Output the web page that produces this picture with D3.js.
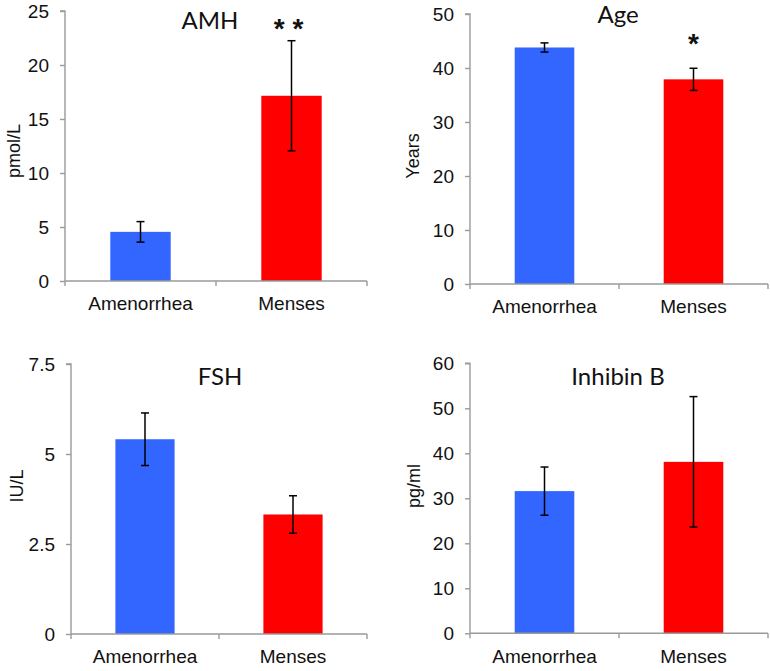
<!DOCTYPE html>
<html>
<head>
<meta charset="utf-8">
<script src="https://cdn.jsdelivr.net/npm/d3@7"></script>
<style>
  html, body { margin: 0; padding: 0; background: #fff; }
  svg { display: block; }
  .ax text { font-family: "Liberation Sans", Arial, Helvetica, sans-serif; }
</style>
</head>
<body>
<svg id="chart" width="770" height="671"></svg>
<script>
// ---- Data ----
const categories = ["Amenorrhea", "Menses"];
const barColors = ["#3366FF", "#FF0000"];

const amhMeans = [4.55, 17.15];
const amhErr = [0.95, 5.1];
const amhTicks = [0, 5, 10, 15, 20, 25];

const ageMeans = [43.8, 37.9];
const ageErr = [0.85, 2.05];
const ageTicks = [0, 10, 20, 30, 40, 50];

const fshMeans = [5.41, 3.32];
const fshErr = [0.73, 0.52];
const fshTicks = [0, 2.5, 5, 7.5];

const inhMeans = [31.6, 38.1];
const inhErr = [5.35, 14.5];
const inhTicks = [0, 10, 20, 30, 40, 50, 60];

const titles = ["AMH", "Age", "FSH", "Inhibin B"];
const yLabels = ["pmol/L", "Years", "IU/L", "pg/ml"];
const significance = ["* *", "*", "", ""];

// ---- Layout (pixel geometry) ----
const layouts = [
  { x0: 65,  x1: 367, yTop: 11,    yBot: 281,   titleX: 210, titleY: 29,  ylabX: 14,  ylabY: 151 },
  { x0: 470, x1: 768, yTop: 14,    yBot: 284,   titleX: 618, titleY: 23,  ylabX: 413, ylabY: 156 },
  { x0: 71,  x1: 367, yTop: 364,   yBot: 634,   titleX: 220, titleY: 385, ylabX: 17,  ylabY: 486 },
  { x0: 470, x1: 768, yTop: 363.3, yBot: 633.3, titleX: 618, titleY: 385, ylabX: 414, ylabY: 486 }
];

const panels = [
  { means: amhMeans, err: amhErr, ticks: amhTicks },
  { means: ageMeans, err: ageErr, ticks: ageTicks },
  { means: fshMeans, err: fshErr, ticks: fshTicks },
  { means: inhMeans, err: inhErr, ticks: inhTicks }
];

const svg = d3.select("#chart");
const axisColor = "#9a9a9a";
const tickFont = "Liberation Sans, Arial, Helvetica, sans-serif";
const titleFont = "Lato, Open Sans, sans-serif";

panels.forEach((p, i) => {
  const L = layouts[i];
  const g = svg.append("g").attr("class", "ax");

  const x = d3.scaleBand()
    .domain(categories)
    .range([L.x0, L.x1])
    .paddingInner(0.6)
    .paddingOuter(0.3);

  const yMax = p.ticks[p.ticks.length - 1];
  const y = d3.scaleLinear().domain([0, yMax]).range([L.yBot, L.yTop]);

  // Y axis
  const yAxis = g.append("g")
    .attr("transform", `translate(${L.x0},0)`)
    .call(d3.axisLeft(y).tickValues(p.ticks).tickSize(5).tickPadding(11).tickFormat(d3.format("")));
  yAxis.attr("font-family", null).attr("font-size", null);
  yAxis.select(".domain").attr("stroke", axisColor).attr("stroke-width", 1.4)
    .attr("d", `M-5,${y(yMax)}H0V${y(0)}`);
  yAxis.selectAll(".tick line").attr("stroke", axisColor).attr("stroke-width", 1.4);
  yAxis.selectAll(".tick text").style("font-family", tickFont).style("font-size", "19px").attr("fill", "#111");

  // Bars
  g.selectAll("rect.bar")
    .data(categories)
    .join("rect")
    .attr("class", "bar")
    .attr("x", d => x(d))
    .attr("width", x.bandwidth())
    .attr("y", (d, k) => y(p.means[k]))
    .attr("height", (d, k) => y(0) - y(p.means[k]))
    .attr("fill", (d, k) => barColors[k]);

  // X axis
  const xAxis = g.append("g")
    .attr("transform", `translate(0,${L.yBot})`)
    .call(d3.axisBottom(x).tickSize(0).tickPadding(16));
  xAxis.attr("font-family", null).attr("font-size", null);
  xAxis.select(".domain").attr("stroke", axisColor).attr("stroke-width", 1.4)
    .attr("d", `M${L.x0},0H${L.x1}`);
  xAxis.selectAll(".tick text").style("font-family", tickFont).style("font-size", "19px").attr("fill", "#111");

  // Category boundary ticks
  const bounds = [L.x0].concat(categories.map(c => x(c) - x.step() * x.paddingOuter() + x.step()));
  g.selectAll("line.xsep")
    .data(bounds)
    .join("line")
    .attr("class", "xsep")
    .attr("x1", d => d).attr("x2", d => d)
    .attr("y1", L.yBot).attr("y2", L.yBot + 5)
    .attr("stroke", axisColor).attr("stroke-width", 1.4);

  // Error bars
  const cap = 4;
  categories.forEach((c, k) => {
    const cx = x(c) + x.bandwidth() / 2;
    const lo = y(p.means[k] - p.err[k]);
    const hi = y(p.means[k] + p.err[k]);
    const eg = g.append("g").attr("stroke", "#000").attr("stroke-width", 1.5);
    eg.append("line").attr("x1", cx).attr("x2", cx).attr("y1", lo).attr("y2", hi);
    eg.append("line").attr("x1", cx - cap).attr("x2", cx + cap).attr("y1", lo).attr("y2", lo);
    eg.append("line").attr("x1", cx - cap).attr("x2", cx + cap).attr("y1", hi).attr("y2", hi);
  });

  // Significance marks
  if (significance[i]) {
    const k = 1;
    const cx = x(categories[k]) + x.bandwidth() / 2;
    g.append("text")
      .attr("x", cx - (i === 0 ? 3 : 0))
      .attr("y", i === 0 ? 38 : 53)
      .attr("text-anchor", "middle")
      .style("font-family", tickFont)
      .style("font-size", "28px")
      .style("font-weight", "bold")
      .attr("fill", "#111")
      .text(significance[i]);
  }

  // Title
  g.append("text")
    .attr("x", L.titleX).attr("y", L.titleY)
    .attr("text-anchor", "middle")
    .style("font-family", titleFont)
    .style("font-size", "24px")
    .attr("fill", "#111")
    .text(titles[i]);

  // Y label
  g.append("text")
    .attr("transform", `translate(${L.ylabX},${L.ylabY}) rotate(-90)`)
    .attr("text-anchor", "middle")
    .attr("dy", "0.35em")
    .style("font-family", tickFont)
    .style("font-size", "18px")
    .attr("fill", "#111")
    .text(yLabels[i]);
});
</script>
</body>
</html>
